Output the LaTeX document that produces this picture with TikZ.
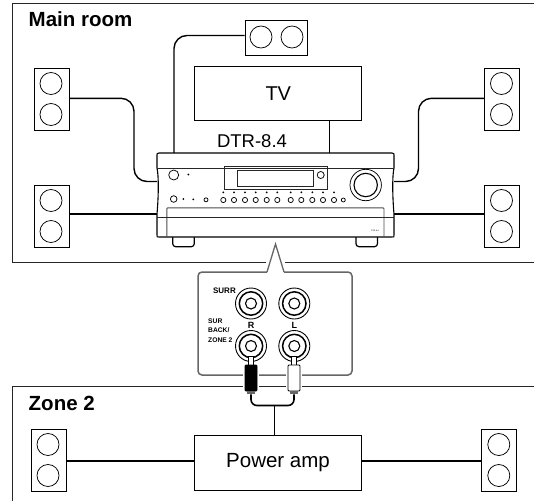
\documentclass[tikz,border=0pt]{standalone}
\usepackage{fontspec}
\setmainfont{Liberation Sans}
\definecolor{frm}{gray}{0.15}
\definecolor{pgrey}{gray}{0.4}
\tikzset{
  ln/.style={line width=1pt,draw=frm},
  wire/.style={line width=1.4pt,rounded corners=13pt},
  straightw/.style={line width=1.15pt},
  thin0/.style={line width=0.75pt},
  boxn/.style={draw,line width=1pt,fill=white,inner sep=0pt,anchor=north west},
  big/.style={font=\fontsize{20}{24}\selectfont},
  lab/.style={font=\bfseries\fontsize{20.5}{24}\selectfont,anchor=base west,inner sep=0pt},
  tiny0/.style={font=\bfseries\fontsize{6.7}{9.4}\selectfont,inner sep=0pt},
  tipn/.style={draw,fill=white,line width=0.8pt,minimum width=4.6pt,minimum height=11pt,inner sep=0pt},
  plugn/.style={draw,line width=0.9pt,minimum width=12pt,minimum height=26pt,inner sep=0pt,rounded corners=1pt},
  ferr/.style={fill=black!60,minimum width=8pt,minimum height=3.5pt,inner sep=0pt},
}
\newcommand{\spkV}[3]{%
  \node[boxn,minimum width=35pt,minimum height=62.5pt] (#3) at (#1,#2) {};
  \draw[thin0] (#1+17.5,#2+16) circle (11);
  \draw[thin0] (#1+17.5,#2+47) circle (11);
}
\newcommand{\jack}[3]{%
  \node[draw,circle,line width=0.9pt,fill=white,minimum size=31pt,inner sep=0pt] (#3) at (#1,#2) {};
  \draw[line width=1.5pt] (#1,#2) circle (11.7);
  \draw[line width=1.1pt] (#1,#2) circle (5.5);
}
\begin{document}
\begin{tikzpicture}[x=1pt,y=-1pt]
\useasboundingbox (0,0) rectangle (534,501);
% room frames
\coordinate (mbl) at (12,262.5); \coordinate (mtl) at (12,3);
\coordinate (mtr) at (534,3); \coordinate (mbr) at (534,262.5);
\coordinate (gapl) at (266,262.5); \coordinate (gapr) at (285,262.5);
\draw[ln] (gapl) -- (mbl) -- (mtl) -- (mtr);
\draw[ln] (gapr) -- (mbr);
\coordinate (ztl) at (12,386.5); \coordinate (ztr) at (534,386.5); \coordinate (zbl) at (12,501);
\draw[ln] (ztr) -- (ztl) -- (zbl);
\node[lab] (mainlab) at (28.5,26) {Main room};
\node[lab] (zonelab) at (28.5,410) {Zone 2};
% wire corners
\coordinate (w1) at (134,98.3); \coordinate (w2) at (134,181.5);
\coordinate (w3) at (174,35.5); \coordinate (w4) at (174,153);
\coordinate (w5) at (418.5,98.3); \coordinate (w6) at (418.5,181.5);
% speakers
\spkV{33.5}{67.5}{sl}
\spkV{33.5}{184.5}{sll}
\spkV{484}{67.5}{sr}
\spkV{484}{184.5}{srr}
\node[boxn,minimum width=62pt,minimum height=35pt] (st) at (244.5,19.5) {};
\draw[thin0] (261,37) circle (11); \draw[thin0] (292,37) circle (11);
\node[boxn,big,minimum width=167pt,minimum height=54pt] (tv) at (194.3,66) {TV};
\node[font=\fontsize{18.5}{22}\selectfont,inner sep=0pt] (model) at (252,141) {DTR-8.4};
\coordinate (tvr) at (329.5,120); \coordinate (recv) at (329.5,153);
\coordinate (rl1) at (157,181.5); \coordinate (rr1) at (394,181.5);
\coordinate (rl2) at (157,214); \coordinate (rr2) at (394,214);
\draw[wire] (sl.east |- w1) -- (w1) -- (w2) -- (rl1);
\draw[wire] (sr.west |- w5) -- (w5) -- (w6) -- (rr1);
\draw[wire] (st.west |- w3) -- (w3) -- (w4);
\draw[straightw] (tvr) -- (recv);
\draw[straightw] (sll.east |- rl2) -- (rl2);
\draw[straightw] (srr.west |- rr2) -- (rr2);
% receiver feet
\draw[line width=1.2pt,fill=white,rounded corners=3pt] (172.7,230) -- (172.7,246.7) -- (194.3,246.7) -- (194.3,230);
\draw[line width=1.2pt,fill=white,rounded corners=3pt] (356,230) -- (356,246.7) -- (377.5,246.7) -- (377.5,230);
% receiver body
\draw[line width=1.1pt,fill=white]
  (157,155) .. controls (157,153.5) .. (159,153) -- (392,153) .. controls (394,153.5) .. (394,155)
  -- (394,168) .. controls (392.3,175) and (392.3,195) .. (394,214) -- (394,235) .. controls (394,237) .. (392,237)
  -- (159,237) .. controls (157,237) .. (157,235) -- (157,214) .. controls (158.7,195) and (158.7,175) .. (157,168) -- cycle;
\draw[ln] (157,168) -- (394,168);
\draw[line width=0.9pt,draw=black!70,rounded corners=1pt] (166.8,237) -- (166.8,207.8) -- (384,207.8) -- (384,237);
\draw[ln] (157,217.3) -- (394,217.3);
\draw[ln] (224.3,189) rectangle (327,166.3);
\draw[ln] (237.5,186) rectangle (313,170);
\draw[thin0] (320.7,175) circle (3.5);
\draw[thin0] (173.7,175) circle (5);
\fill (188.3,174.5) circle (1);
\draw[thin0] (365.7,185) circle (15.7);
\draw[line width=1.1pt] (365.7,185) circle (11.7);
\draw[thin0] (173.7,199) circle (3.3);
\fill (183.3,199) circle (1); \fill (193.3,199.3) circle (1);
\draw[thin0] (206,199.8) circle (2);
\foreach \x in {223.3,234,245,255.7,266.7,277.3,290.7,301.3,312.3,323,334} {
  \draw[thin0] (\x,200) circle (2.6);
  \fill (\x,192.3) circle (1);
}
\draw[thin0] (343.3,200) circle (2);
\node[font=\fontsize{2}{2}\selectfont,inner sep=0pt] (modelsmall) at (375,231) {DTR-8.4};
% panel
\coordinate (pa) at (275.5,244);
\coordinate (pl) at (267,272); \coordinate (pr) at (284,272);
\draw[line width=1.3pt,draw=pgrey] (pl) -- (pa) -- (pr);
\draw[line width=1.5pt,draw=pgrey,rounded corners=4pt] (pl) -- (198,272) -- (198,375) -- (352,375) -- (352,272) -- (pr);
\jack{251}{303.5}{j1}
\jack{294.3}{303.5}{j2}
\jack{251}{346}{j3}
\jack{294.3}{346}{j4}
\node[tiny0,font=\bfseries\fontsize{8}{9}\selectfont,anchor=east] (surr) at (236,291) {SURR};
\node[tiny0,anchor=north west,align=left] (surb) at (208,318.5) {SUR\\BACK/\\ZONE 2};
\node[inner sep=0pt,font=\bfseries\fontsize{9}{9}\selectfont] (rl) at (251,325.5) {R};
\node[inner sep=0pt,font=\bfseries\fontsize{9}{9}\selectfont] (ll) at (294.3,325.5) {L};
% plugs
\fill[white] (243,366) rectangle (259,392);
\fill[white] (286,366) rectangle (302,392);
\node[tipn] (tipr) at (250.8,361.5) {};
\node[tipn] (tipl) at (293.8,361.5) {};
\node[plugn,fill=black] (bodyr) at (251,378) {};
\node[plugn,fill=white] (bodyl) at (294,378) {};
\node[ferr] (fr) at (251,392.5) {};
\node[ferr] (fl) at (294,392.5) {};
% amp
\node[boxn,font=\fontsize{20.5}{24}\selectfont,minimum width=166.5pt,minimum height=54.5pt] (amp) at (194.3,435) {Power amp};
\coordinate (cj) at (274.3,405.5);
\draw[line width=1.6pt,rounded corners=6pt] (fr.south) -- (251,405.5) -- (294,405.5) -- (fl.south);
\draw[line width=1.6pt] (cj) -- (cj |- amp.north);
\spkV{30.5}{428.5}{zl}
\spkV{481.3}{428.5}{zr}
\coordinate (zw) at (0,461);
\draw[straightw] (zl.east |- zw) -- (amp.west |- zw);
\draw[straightw] (amp.east |- zw) -- (zr.west |- zw);
\end{tikzpicture}
\end{document}
